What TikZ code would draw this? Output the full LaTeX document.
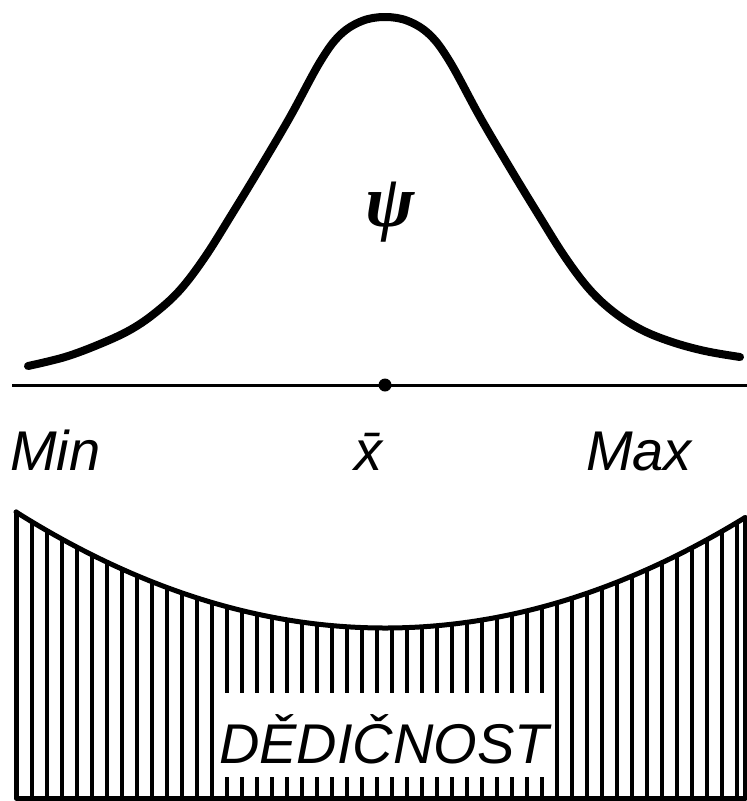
\documentclass[tikz,border=0pt]{standalone}
\usepackage{fontspec}
\setmainfont{Liberation Sans}
\newfontfamily\greekit{Liberation Serif}
\tikzset{
  lab/.style={font=\fontsize{56}{60}\selectfont\itshape, inner sep=0pt},
  bell/.style={line width=8pt, line cap=round, line join=round},
  axis/.style={line width=3pt},
  rim/.style={line width=5pt, line cap=round, line join=round},
  hatch/.style={line width=3.5pt},
}
\begin{document}
\begin{tikzpicture}[x=1pt,y=-1pt]
\useasboundingbox (0,0) rectangle (747,801);
% bell curve
\draw[bell] plot[smooth, tension=0.6] coordinates {
  (28,366) (65,357) (100,344) (130,330) (155,313) (180,290) (205,257)
  (232,214) (260,168) (290,117) (320,62) (340,35) (362,21) (385,17)
  (408,21) (430,35) (450,62) (480,117) (510,168) (538,214) (565,257)
  (590,290) (615,313) (642,330) (672,342) (705,351) (740,357)};
% axis
\coordinate (axL) at (12,385);
\coordinate (axR) at (747,385);
\draw[axis] (axL) -- (axR);
\node[circle, fill=black, inner sep=0pt, minimum size=13pt] (mean) at (385,385) {};
\node[lab, anchor=base west] (min) at (10,470) {Min};
\node[lab, anchor=base] (xbar) at (368,470) {\={x}};
\node[lab, anchor=base east] (max) at (692,470) {Max};
\node[inner sep=0pt, font=\fontsize{74}{78}\selectfont\greekit\itshape\bfseries] (psi) at (390,212) {ψ};
% heredity region
\foreach \x in {17,32,...,745} {
  \draw[hatch] (\x, {628 - 116*((\x-385)/369)^2}) -- (\x, 798);
}
\draw[rim] plot[domain=16:745, samples=100, smooth] (\x, {628 - 116*((\x-385)/369)^2});
\coordinate (bl) at (16,798);
\coordinate (br) at (745,798);
\coordinate (tl) at (16,{628 - 116*((16-385)/369)^2});
\coordinate (tr) at (745,{628 - 116*((745-385)/369)^2});
\draw[rim] (tl) -- (bl) -- (br) -- (tr);
\node[fill=white, inner sep=0pt, minimum width=338pt, minimum height=84pt] (gap) at (384,735) {};
\node[lab, anchor=base] (her) at (384,763) {DĚDIČNOST};
\end{tikzpicture}
\end{document}
